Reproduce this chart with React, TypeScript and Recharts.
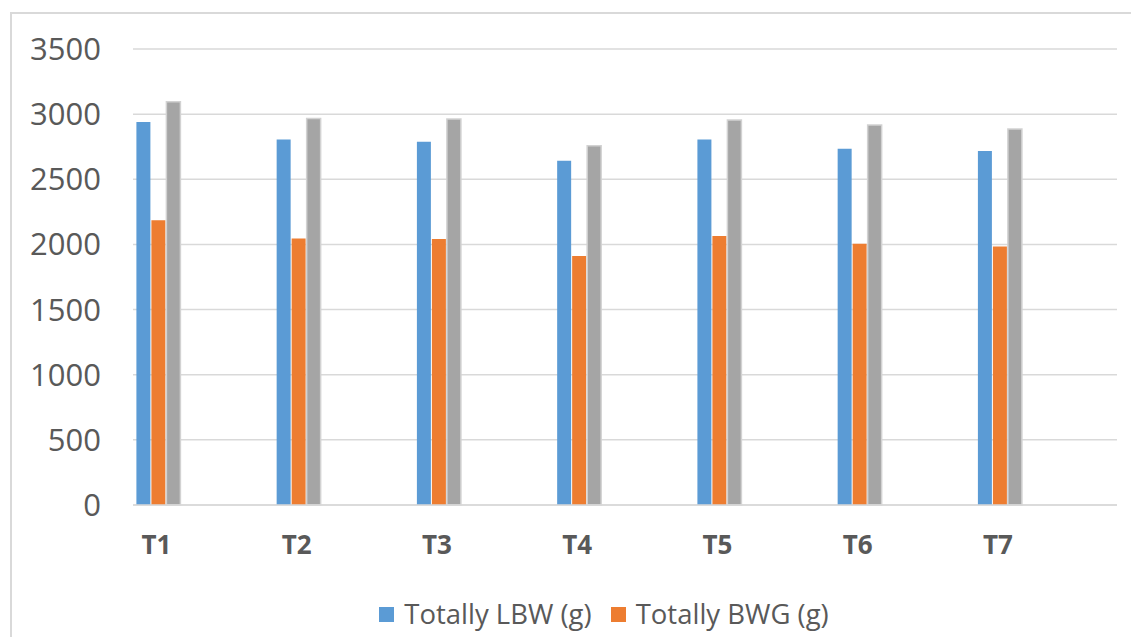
import React from 'react';
import { BarChart, Bar, XAxis, YAxis, CartesianGrid } from 'recharts';

const categories = ['T1', 'T2', 'T3', 'T4', 'T5', 'T6', 'T7'];
const totallyLBW = [2940, 2805, 2788, 2642, 2805, 2734, 2718];
const totallyBWG = [2186, 2046, 2041, 1911, 2064, 2005, 1984];
const series3 = [3095, 2966, 2962, 2757, 2955, 2916, 2886];
const yTicks = [0, 500, 1000, 1500, 2000, 2500, 3000, 3500];

const COLORS = {
  lbw: '#5B9BD5',
  bwg: '#ED7D31',
  s3: '#A5A5A5',
  grid: '#D9D9D9',
  text: '#595959',
};

const FONT = '"Open Sans", sans-serif';

// x positions are category indexes (1..7) so the bar groups sit on a numeric scale
const data = categories.map((name, i) => ({
  pos: i + 1,
  name,
  lbw: totallyLBW[i],
  bwg: totallyBWG[i],
  s3: series3[i],
}));

const legendItems = [
  { label: 'Totally LBW (g)', color: COLORS.lbw },
  { label: 'Totally BWG (g)', color: COLORS.bwg },
];

export default function App() {
  return (
    <div style={{ position: 'absolute', left: 0, top: 0, width: 1131, height: 637, background: '#fff', overflow: 'hidden', fontFamily: FONT }}>
      <div style={{ position: 'absolute', left: 10, top: 12, width: 1200, height: 700, border: `2px solid ${COLORS.grid}` }} />
      <BarChart
        width={1131}
        height={637}
        data={data}
        margin={{ top: 49, right: 14, left: 0, bottom: 72 }}
        barGap={1}
        style={{ position: 'absolute', left: 0, top: 0 }}
      >
        <CartesianGrid vertical={false} stroke={COLORS.grid} strokeWidth={1.5} />
        <XAxis
          dataKey="pos"
          type="number"
          domain={[0.818, 7.834]}
          ticks={[1, 2, 3, 4, 5, 6, 7]}
          tickFormatter={(v: number) => categories[v - 1]}
          height={60}
          axisLine={{ stroke: COLORS.grid, strokeWidth: 1.5 }}
          tickLine={false}
          tickMargin={25}
          tick={{ fill: COLORS.text, fontSize: 26, fontWeight: 700, fontFamily: FONT, dx: -2 }}
          allowDataOverflow
        />
        <YAxis
          domain={[0, 3500]}
          ticks={yTicks}
          width={133}
          axisLine={false}
          tickLine={false}
          tickMargin={26}
          tick={{ fill: COLORS.text, fontSize: 31, fontFamily: FONT }}
        />
        <Bar dataKey="lbw" name="Totally LBW (g)" fill={COLORS.lbw} barSize={14} isAnimationActive={false} />
        <Bar dataKey="bwg" name="Totally BWG (g)" fill={COLORS.bwg} barSize={14} isAnimationActive={false} />
        <Bar dataKey="s3" name="Series3" fill={COLORS.s3} stroke="#D2D2D2" strokeWidth={1.5} barSize={14} isAnimationActive={false} />
      </BarChart>
      <div style={{ position: 'absolute', top: 598, left: 0, width: 1131, display: 'flex', justifyContent: 'center', alignItems: 'center', gap: 19, paddingLeft: 77, boxSizing: 'border-box' }}>
        {legendItems.map((item) => (
          <div key={item.label} style={{ display: 'flex', alignItems: 'center' }}>
            <span style={{ width: 15, height: 15, background: item.color, display: 'inline-block', marginRight: 10 }} />
            <span style={{ fontSize: 27.5, color: COLORS.text, lineHeight: '32px' }}>{item.label}</span>
          </div>
        ))}
      </div>
    </div>
  );
}
